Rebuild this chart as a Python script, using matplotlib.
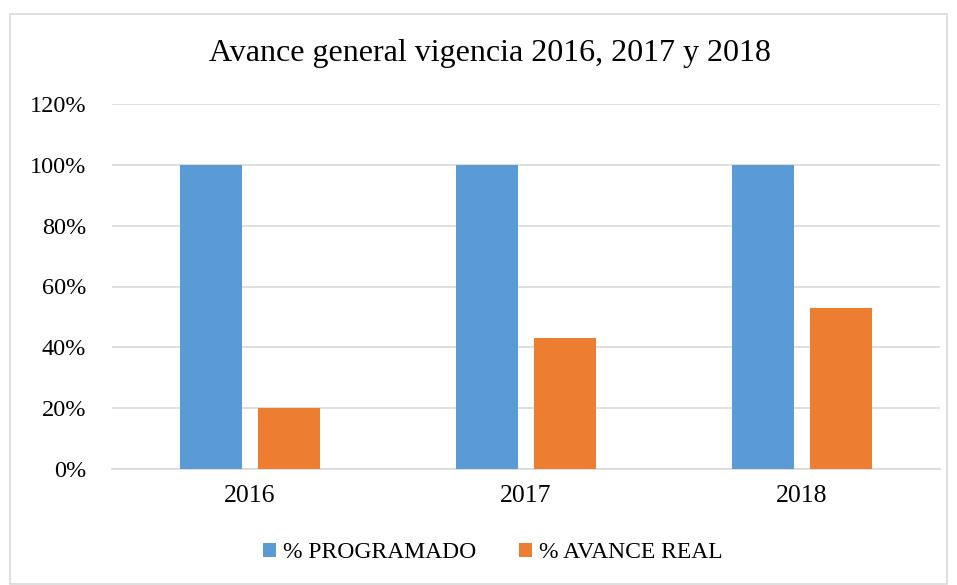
import numpy as np
import matplotlib.pyplot as plt
from matplotlib.patches import Rectangle

# data
years = ['2016', '2017', '2018']
programado = [100, 100, 100]
avance_real = [20, 43, 53]

plt.rcParams['font.family'] = ['Liberation Serif', 'DejaVu Serif']

fig = plt.figure(figsize=(9.57, 5.85), dpi=100)
ax = fig.add_axes([112 / 957, 1 - 469 / 585, (940 - 112) / 957, (469 - 104) / 585])

x = np.arange(len(years))
width = 0.225
offset = 0.141
ax.bar(x - offset, programado, width, color='#5B9BD5', label='% PROGRAMADO', zorder=3)
ax.bar(x + offset, avance_real, width, color='#ED7D31', label='% AVANCE REAL', zorder=3)

ax.set_xlim(-0.5, 2.5)
ax.set_ylim(0, 120)
ax.set_yticks(range(0, 121, 20))
ax.set_yticklabels([f'{v}%' for v in range(0, 121, 20)], fontsize=17.5)
ax.set_xticks(x)
ax.set_xticklabels(years, fontsize=18.5)
ax.tick_params(axis='x', length=0, pad=11.5)
ax.tick_params(axis='y', length=0, pad=18.5)

ax.grid(axis='y', color='#d9d9d9', linewidth=1.2, zorder=0)
for s in ['top', 'right', 'left']:
    ax.spines[s].set_visible(False)
ax.spines['bottom'].set_color('#d9d9d9')
ax.spines['bottom'].set_linewidth(1.2)

fig.text(490 / 957, 1 - 53 / 585, 'Avance general vigencia 2016, 2017 y 2018',
         ha='center', va='center', fontsize=23)

fig.legend(loc='center', bbox_to_anchor=(493 / 957, 1 - 553 / 585), ncol=2,
           frameon=False, fontsize=17, handlelength=0.55, handleheight=0.55,
           columnspacing=1.8, handletextpad=0.3)

# outer chart frame
fig.patches.append(Rectangle((10 / 957, 0.002), 937 / 957, 1 - 14 / 585 - 0.002,
                             transform=fig.transFigure, fill=False,
                             edgecolor='#d9d9d9', linewidth=1.2))

fig.savefig('out.png', dpi=100)
